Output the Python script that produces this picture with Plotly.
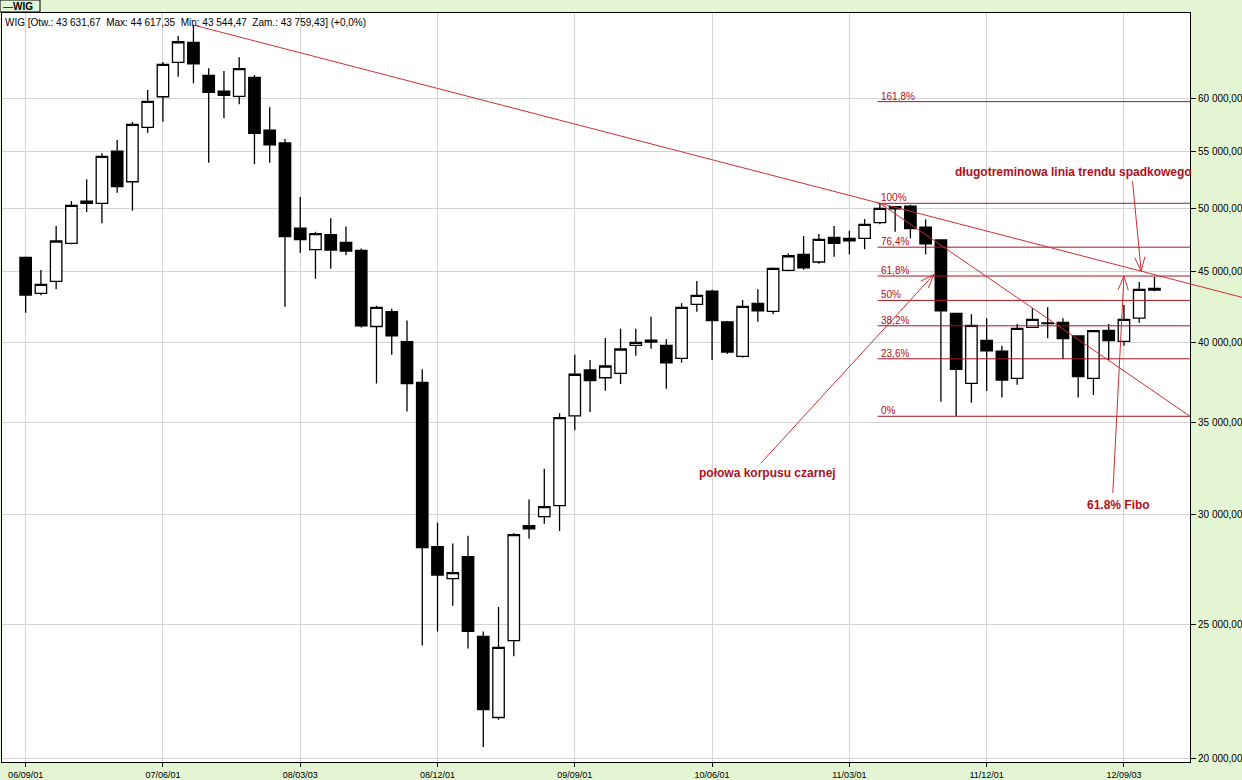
import numpy as np
import plotly.graph_objects as go

# ---------------- data (monthly candles, index 0 = 2006-09) ----------------
open_ = [46080, 43395, 44270, 47165, 50610, 50420, 55010, 52265, 57225, 60220,
         63775, 65935, 62410, 60795, 60260, 62200, 56970, 55750, 48370, 46675,
         47855, 47230, 46620, 41060, 42090, 40045, 37405, 28450, 26975, 27980,
         24500, 21400, 24325, 29465, 29905, 30465, 35375, 38190, 37700, 37980,
         39795, 40145, 39795, 38940, 42605, 43560, 41370, 39070, 42680, 42115,
         45090, 46310, 45720, 47640, 47370, 47560, 48815, 50135, 50190, 48465,
         47430, 41975, 37350, 40125, 39415, 37665, 41005, 41300, 41350, 40415,
         37665, 40800, 40060, 41645, 43631.67]
high = [46150, 45115, 48545, 50610, 52475, 54800, 56030, 57735, 60900, 63805,
        66635, 67865, 63140, 62855, 64310, 62440, 59165, 56120, 50950, 48080,
        49175, 48505, 46770, 42505, 42300, 41475, 38235, 29610, 28605, 28975,
        24700, 25725, 29100, 30770, 32400, 35540, 39175, 38830, 40275, 40910,
        40910, 41735, 40195, 42680, 44295, 43650, 41440, 42915, 43685, 45300,
        46370, 47745, 47905, 48545, 48170, 49115, 50420, 50200, 50300, 49090,
        47480, 42000, 41900, 41625, 39765, 41230, 42325, 42395, 41625, 40415,
        40800, 41230, 42555, 44220, 44617.35]
low = [42015, 43250, 43685, 47085, 49690, 48765, 51315, 49800, 56715, 57765,
       62260, 61580, 53950, 58090, 59460, 53805, 53950, 42435, 46425, 44455,
       45205, 46265, 40985, 37340, 39175, 35630, 24125, 24700, 25785, 24010,
       20370, 21320, 23695, 28825, 29555, 29205, 34545, 35605, 36895, 37310,
       39110, 39570, 37015, 38655, 42085, 38830, 39220, 38990, 41390, 41900,
       45015, 45135, 45595, 46125, 46310, 46700, 48700, 48090, 47560, 46310,
       36220, 35355, 36165, 36875, 36485, 37265, 41005, 40260, 38895, 36485,
       36630, 38830, 39765, 41320, 43544.47]
close = [43275, 44050, 47350, 50250, 50420, 54530, 51835, 57515, 59760, 63560,
         66000, 63625, 60665, 60360, 63100, 56655, 55590, 47690, 47455, 47935,
         46645, 46565, 41110, 42395, 40430, 37340, 28400, 27135, 27245, 24700,
         21680, 24050, 29030, 29305, 30410, 35270, 37920, 37515, 38445, 39550,
         39995, 40010, 38655, 42395, 43250, 41460, 39350, 42465, 42155, 45240,
         46200, 45285, 47480, 47165, 47560, 48685, 50000, 49965, 48330, 47135,
         42155, 38235, 41140, 39435, 37555, 40935, 41555, 41260, 40235, 37765,
         40775, 40100, 41555, 43685, 43759.43]
months = list(range(len(close)))

x_tick_idx = [0, 9, 18, 27, 36, 45, 54, 63, 72]
x_tick_labels = ["06/09/01", "07/06/01", "08/03/03", "08/12/01", "09/09/01",
                 "10/06/01", "11/03/01", "11/12/01", "12/09/03"]
y_ticks = [20000, 25000, 30000, 35000, 40000, 45000, 50000, 55000, 60000]
y_tick_labels = ["20 000,00", "25 000,00", "30 000,00", "35 000,00", "40 000,00",
                 "45 000,00", "50 000,00", "55 000,00", "60 000,00"]

fib_ratios = [0.0, 0.236, 0.382, 0.5, 0.618, 0.764, 1.0, 1.618]
fib_labels = ["0%", "23,6%", "38,2%", "50%", "61,8%", "76,4%", "100%", "161,8%"]
fib_top_idx = 56      # candle with 100% level (its high)
fib_bottom_idx = 61   # candle with 0% level (its low)
trend_start_idx = 11  # all-time high candle
black_candle_idx = 60

# ---------------- geometry ----------------
FW, FH = 1242, 780
ML, MR, MT, MB = 2, 52, 13, 18
W, H = FW - ML - MR, FH - MT - MB
X0, X1 = -1.55, 76.33
LOG0, LOG1 = np.log10(19870), np.log10(69240)

def xp(i):
    return (i - X0) / (X1 - X0)

def yp(v):
    return (np.log10(v) - LOG0) / (LOG1 - LOG0)

RED_TXT = "#B0101C"
FIB_COL = "#A8141E"
TREND_COL = "#CC3036"
GREEN = "#E3F5D2"
FONT = "Liberation Sans, Arial, sans-serif"

fib_high = high[fib_top_idx]
fib_low = low[fib_bottom_idx]
fib_levels = [fib_low + r * (fib_high - fib_low) for r in fib_ratios]
fib_x0 = 55.85

# trend line (log-linear through the two highs)
lt0 = np.log10(high[trend_start_idx])
slope = (np.log10(fib_high) - lt0) / (fib_top_idx - trend_start_idx)

def trend_val(i):
    return 10 ** (lt0 + slope * (i - trend_start_idx))

x_fig_end = X0 + (X1 - X0) * (FW - ML) / W

shapes = []
for lv in fib_levels:
    shapes.append(dict(type="line", xref="paper", yref="paper",
                       x0=xp(fib_x0), x1=1, y0=yp(lv), y1=yp(lv),
                       line=dict(color=FIB_COL, width=1)))
shapes.append(dict(type="line", xref="paper", yref="paper",
                   x0=xp(trend_start_idx), y0=yp(high[trend_start_idx]),
                   x1=xp(x_fig_end), y1=yp(trend_val(x_fig_end)),
                   line=dict(color=TREND_COL, width=1)))
shapes.append(dict(type="line", xref="paper", yref="paper",
                   x0=xp(fib_top_idx), y0=yp(fib_high),
                   x1=1, y1=yp(fib_low),
                   line=dict(color=TREND_COL, width=1)))


def arrow(x_tail, v_tail, x_head, v_head, L=15, ang=20):
    tx, ty = xp(x_tail) * W, yp(v_tail) * H
    hx, hy = xp(x_head) * W, yp(v_head) * H
    dx, dy = tx - hx, ty - hy
    n = np.hypot(dx, dy)
    dx, dy = dx / n, dy / n
    res = [dict(type="line", xref="paper", yref="paper",
                x0=tx / W, y0=ty / H, x1=hx / W, y1=hy / H,
                line=dict(color=TREND_COL, width=1))]
    for a in (ang, -ang):
        r = np.radians(a)
        bx = dx * np.cos(r) - dy * np.sin(r)
        by = dx * np.sin(r) + dy * np.cos(r)
        res.append(dict(type="line", xref="paper", yref="paper",
                        x0=hx / W, y0=hy / H,
                        x1=(hx + L * bx) / W, y1=(hy + L * by) / H,
                        line=dict(color=TREND_COL, width=1)))
    return res

mid_black = (open_[black_candle_idx] + close[black_candle_idx]) / 2
shapes += arrow(48.2, 32700, black_candle_idx - 0.45, mid_black)
shapes += arrow(71.27, 31110, 72, fib_levels[4])
shapes += arrow(72.56, 52330, 73.13, trend_val(73.13))

# legend box top-left
shapes.append(dict(type="rect", xref="paper", yref="paper",
                   x0=(0 - ML) / W, x1=(40 - ML) / W,
                   y0=(FH - MB - 12) / H, y1=(FH - MB - 0) / H,
                   line=dict(color="black", width=1), fillcolor=GREEN, layer="above"))

annotations = []
for lv, lab in zip(fib_levels, fib_labels):
    annotations.append(dict(x=55.95, y=np.log10(lv), xref="x", yref="y", text=lab,
                            showarrow=False, xanchor="left", yanchor="bottom",
                            yshift=-2, font=dict(size=10, color=RED_TXT, family=FONT)))

texts = [("długotreminowa linia trendu spadkowego", 68.66, 53090),
         ("połowa korpusu czarnej", 48.61, 32180),
         ("61.8% Fibo", 71.63, 30495)]
for t, xi, v in texts:
    annotations.append(dict(x=xi, y=np.log10(v), xref="x", yref="y", text="<b>" + t + "</b>",
                            showarrow=False, xanchor="center", yanchor="middle",
                            font=dict(size=12, color=RED_TXT, family=FONT)))


def pl(v):
    return f"{v:,.2f}".replace(",", " ").replace(".", ",")

sp = "\u00a0\u00a0"
header = (f"WIG [Otw.: {pl(open_[-1])}{sp}Max: {pl(high[-1])}{sp}"
          f"Min: {pl(low[-1])}{sp}Zam.: {pl(close[-1])}] (+0,0%)")
annotations.append(dict(x=(3 - ML) / W, y=(FH - MB - 22.5) / H, xref="paper", yref="paper",
                        text=header, showarrow=False, xanchor="left", yanchor="middle",
                        font=dict(size=10, color="black", family=FONT)))
annotations.append(dict(x=(1 - ML) / W, y=(FH - MB - 6) / H, xref="paper", yref="paper",
                        text="—<b>WIG</b>", showarrow=False, xanchor="left", yanchor="middle",
                        font=dict(size=10, color="black", family=FONT)))

fig = go.Figure(go.Candlestick(
    x=months, open=open_, high=high, low=low, close=close,
    increasing=dict(line=dict(color="black", width=1.3), fillcolor="white"),
    decreasing=dict(line=dict(color="black", width=1.3), fillcolor="black"),
    whiskerwidth=0, showlegend=False, name="WIG"))

fig.update_layout(
    width=FW, height=FH,
    margin=dict(l=ML, r=MR, t=MT, b=MB, pad=0),
    paper_bgcolor=GREEN, plot_bgcolor="white",
    showlegend=False, boxgap=0.25, boxgroupgap=0,
    font=dict(family=FONT, size=10, color="black"),
    shapes=shapes, annotations=annotations,
    xaxis=dict(range=[X0, X1], tickvals=x_tick_idx, ticktext=x_tick_labels,
               showgrid=True, gridcolor="#D4D4D4", gridwidth=1,
               showline=True, linecolor="black", linewidth=1, mirror=True,
               ticks="outside", ticklen=4, tickcolor="black",
               tickfont=dict(size=9, family=FONT), zeroline=False,
               rangeslider=dict(visible=False), automargin=False, fixedrange=True),
    yaxis=dict(type="log", range=[LOG0, LOG1], side="right",
               tickvals=y_ticks, ticktext=y_tick_labels,
               showgrid=True, gridcolor="#D4D4D4", gridwidth=1,
               showline=True, linecolor="black", linewidth=1, mirror=True,
               ticks="outside", ticklen=5, tickcolor="black",
               tickfont=dict(size=10, family=FONT), zeroline=False,
               automargin=False, fixedrange=True),
)

fig.write_html("out.html",
               config={"displayModeBar": False},
               post_script="document.body.style.margin='0';document.body.style.overflow='hidden';")
